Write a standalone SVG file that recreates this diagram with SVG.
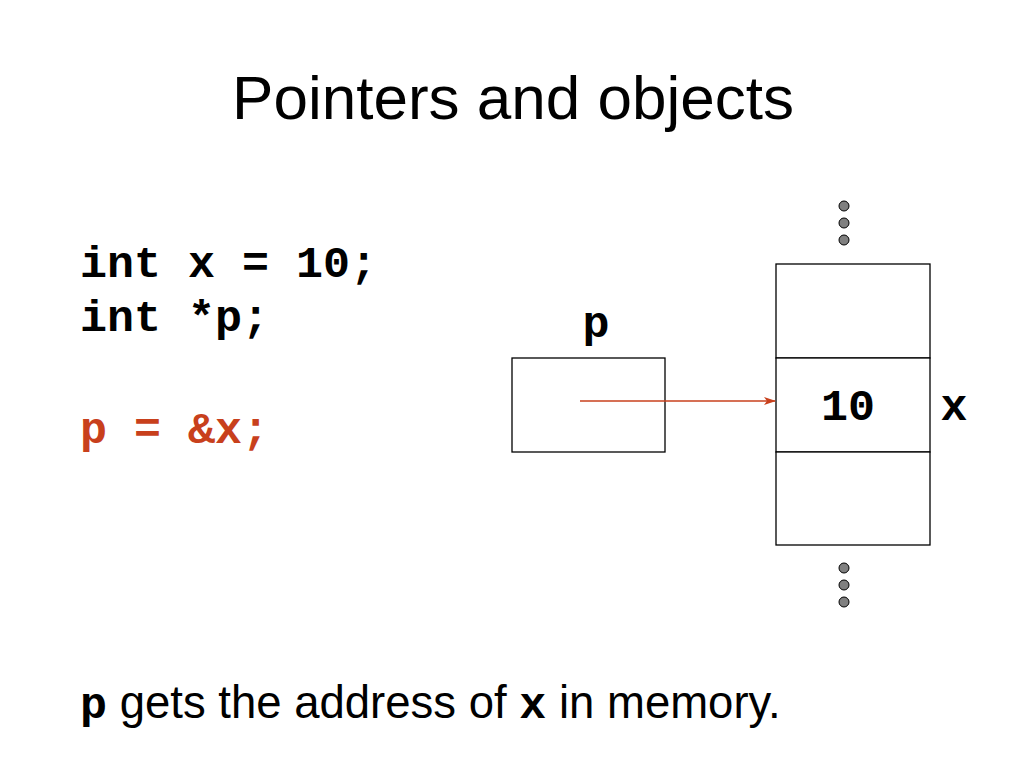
<svg xmlns="http://www.w3.org/2000/svg" width="1024" height="768" viewBox="0 0 1024 768">
<style>
.sans{font-family:"Liberation Sans",Arial,sans-serif;fill:#000}
.mono{font-family:"Liberation Mono","Courier New",monospace;font-weight:bold;fill:#000}
.red{fill:#c8401c}
.box{fill:#fff;stroke:#000;stroke-width:1.3}
.dot{fill:#808080;stroke:#000;stroke-width:1}
</style>
<defs>
<marker id="ah" markerWidth="12" markerHeight="8" refX="11" refY="4" orient="auto" markerUnits="userSpaceOnUse">
<path d="M0,0 L12,4 L0,8 L3,4 Z" fill="#c8401c"/>
</marker>
</defs>
<rect width="1024" height="768" fill="#fff"/>
<text class="sans" x="513" y="119" font-size="62" text-anchor="middle">Pointers and objects</text>
<g id="code">
<text class="mono" x="80" y="277" font-size="45">int x = 10;</text>
<text class="mono" x="80" y="331" font-size="45">int *p;</text>
<text class="mono red" x="80" y="443" font-size="45">p = &amp;x;</text>
</g>
<g id="node-p">
<rect class="box" x="512" y="358" width="153" height="94"/>
<text class="mono" x="596" y="337" font-size="45" text-anchor="middle">p</text>
</g>
<g id="node-mem-top">
<rect class="box" x="776" y="264" width="154" height="94"/>
</g>
<g id="node-x">
<rect class="box" x="776" y="358" width="154" height="94"/>
<text class="mono" x="848" y="420" font-size="45" text-anchor="middle">10</text>
<text class="mono" x="954" y="420" font-size="45" text-anchor="middle">x</text>
</g>
<g id="node-mem-bottom">
<rect class="box" x="776" y="452" width="154" height="93"/>
</g>
<g id="dots">
<circle class="dot" cx="844" cy="206" r="5"/>
<circle class="dot" cx="844" cy="223" r="5"/>
<circle class="dot" cx="844" cy="240" r="5"/>
<circle class="dot" cx="844" cy="568" r="5"/>
<circle class="dot" cx="844" cy="585" r="5"/>
<circle class="dot" cx="844" cy="602" r="5"/>
</g>
<g id="connectors">
<line x1="580" y1="401" x2="775" y2="401" stroke="#c8401c" stroke-width="1.3" marker-end="url(#ah)"/>
</g>
<text x="80" y="718" font-size="45.5"><tspan class="mono" font-size="45">p</tspan><tspan class="sans"> gets the address of </tspan><tspan class="mono" font-size="45">x</tspan><tspan class="sans"> in memory.</tspan></text>
</svg>
